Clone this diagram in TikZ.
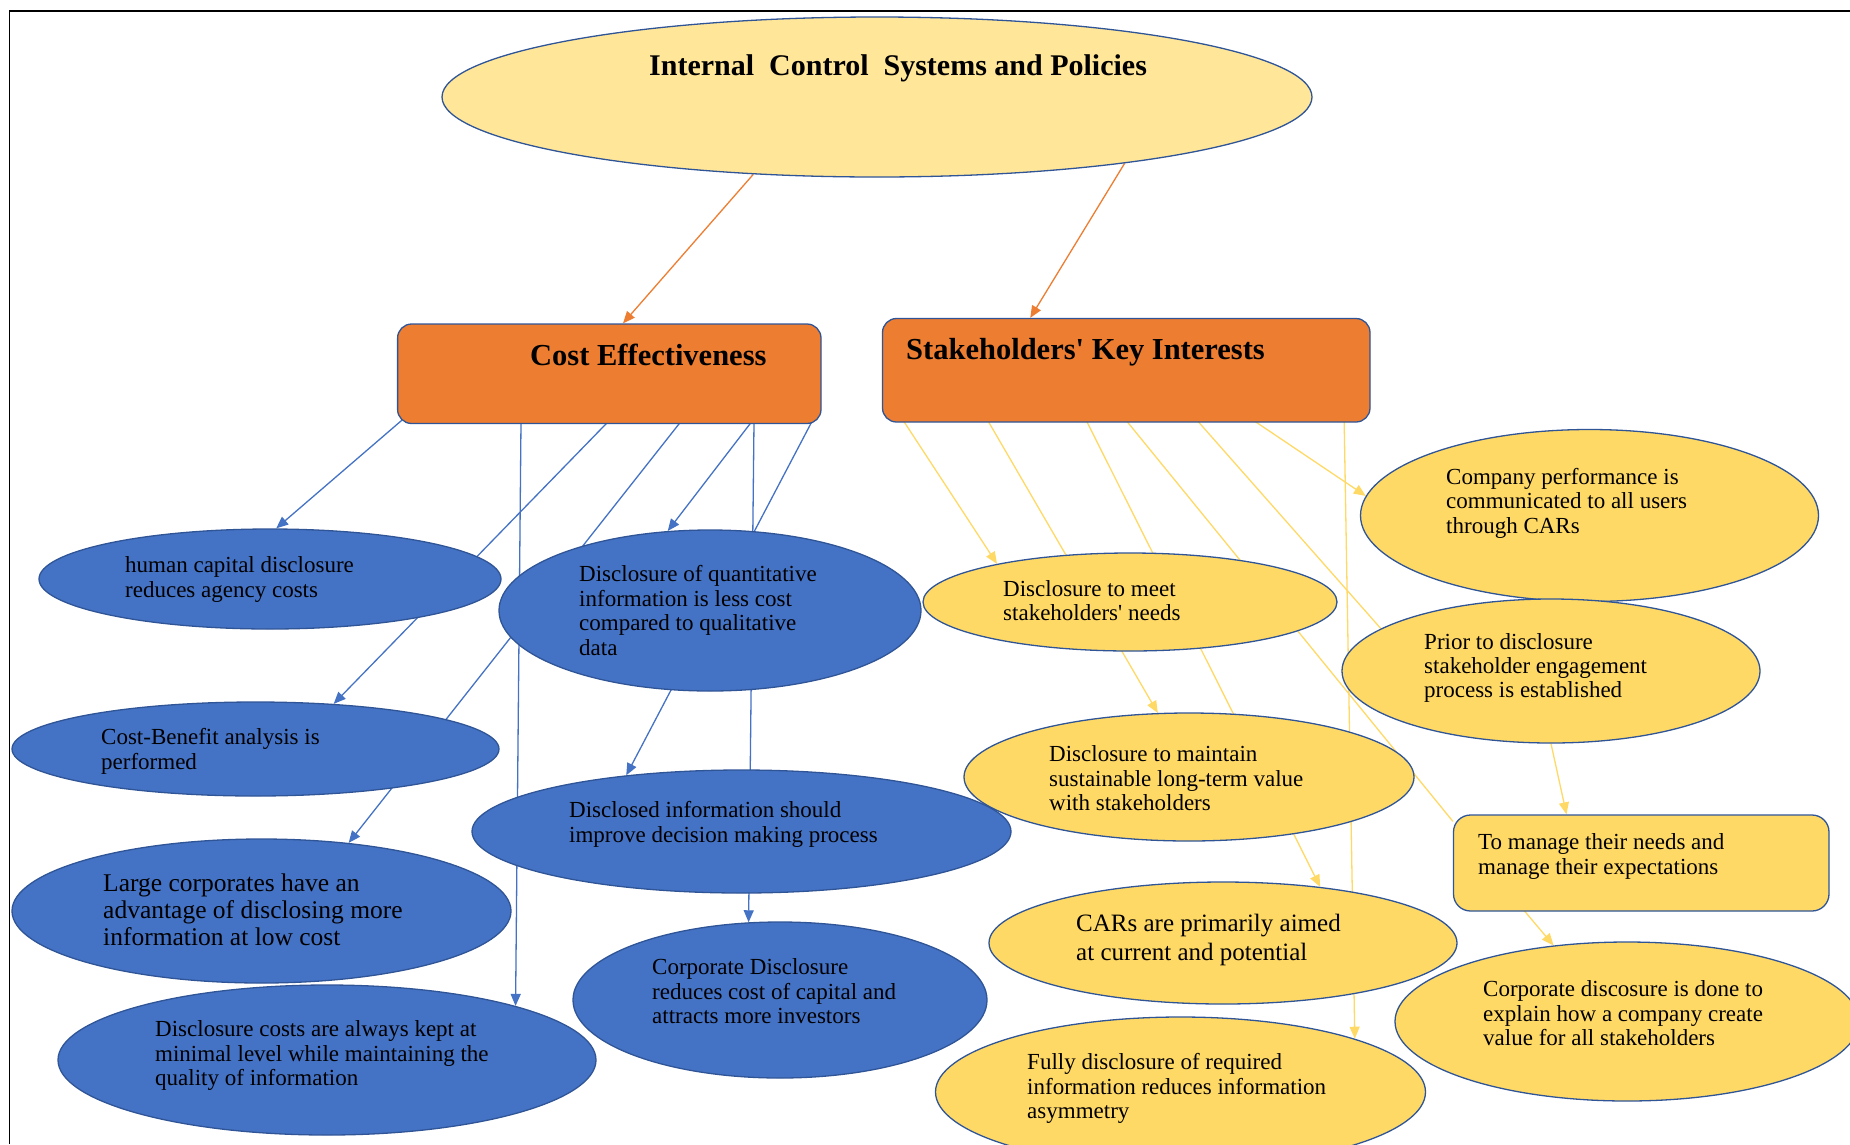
\documentclass[tikz,border=0pt]{standalone}
\usepackage{fontspec}
\setmainfont{Liberation Serif}[Ligatures=TeXOff]
\usetikzlibrary{shapes.geometric,arrows.meta,backgrounds}

\definecolor{paleyellow}{HTML}{FFE699}
\definecolor{gold}{HTML}{FFD966}
\definecolor{midblue}{HTML}{4472C4}
\definecolor{orng}{HTML}{ED7D31}
\definecolor{rim}{HTML}{2F5597}

\begin{document}
\begin{tikzpicture}[x=1pt,y=-1pt,
  oval/.style={ellipse,draw=rim,line width=1.3pt,inner sep=0pt},
  blueoval/.style={oval,fill=midblue},
  goldoval/.style={oval,fill=gold},
  card/.style={rectangle,rounded corners=14pt,draw=rim,line width=1.3pt,inner sep=0pt},
  txt/.style={anchor=north west,align=left,inner sep=0pt,font=\fontsize{23}{24.4}\selectfont},
  bigtxt/.style={txt,font=\fontsize{25.5}{27}\selectfont},
  head/.style={anchor=base west,inner sep=0pt,font=\fontsize{30.5}{34}\selectfont\bfseries},
  tip/.style={-{Triangle[length=12pt,width=10pt]}},
  bline/.style={draw=midblue,line width=1.3pt},
  gline/.style={draw=gold,line width=1.3pt},
  oline/.style={draw=orng,line width=1.3pt},
]
\useasboundingbox (0,0) rectangle (1850,1144);

% frame
\draw[line width=1.5pt] (9.5,1144) -- (9.5,11) -- (1850,11);

% top level
\node[oval,fill=paleyellow,minimum width=870pt,minimum height=160pt] (top) at (877,97) {};
\node[head,font=\fontsize{30}{34}\selectfont\bfseries] (top-t) at (649,75) {Internal\ \ Control\ \ Systems and Policies};

% second level
\node[card,fill=orng,minimum width=423.4pt,minimum height=99.5pt] (ce) at (609.3,373.75) {};
\node[head] (ce-t) at (530,365) {Cost Effectiveness};
\node[card,fill=orng,minimum width=487.5pt,minimum height=103.5pt] (sk) at (1126.25,370.25) {};
\node[head] (sk-t) at (906,359.5) {Stakeholders' Key Interests};

% cost effectiveness branch
\node[blueoval,minimum width=462pt,minimum height=100pt] (hc) at (270,579) {};
\node[txt] (hc-t) at (125,556.5) {human capital disclosure\\reduces agency costs};
\node[blueoval,minimum width=422pt,minimum height=161pt] (qi) at (710,610.5) {};
\node[txt] (qi-t) at (579,565.5) {Disclosure of quantitative\\information is less cost\\compared to qualitative\\data};
\node[blueoval,minimum width=487pt,minimum height=94pt] (cb) at (255.5,749) {};
\node[txt] (cb-t) at (101,728.5) {Cost-Benefit analysis is\\performed};
\node[blueoval,minimum width=539pt,minimum height=123pt] (di) at (741.5,831.5) {};
\node[txt] (di-t) at (569,801.5) {Disclosed information should\\improve decision making process};
\node[blueoval,minimum width=499pt,minimum height=144pt] (lc) at (261.5,911) {};
\node[bigtxt] (lc-t) at (103,873.4) {Large corporates have an\\advantage of disclosing more\\information at low cost};
\node[blueoval,minimum width=414pt,minimum height=156pt] (cdb) at (780,1000) {};
\node[txt] (cdb-t) at (652,958.5) {Corporate Disclosure\\reduces cost of capital and\\attracts more investors};
\node[blueoval,minimum width=538pt,minimum height=150pt] (dc) at (327,1060) {};
\node[txt] (dc-t) at (155,1020.5) {Disclosure costs are always kept at\\minimal level while maintaining the\\quality of information};

% stakeholders branch
\node[goldoval,minimum width=458pt,minimum height=172pt] (cp) at (1589.5,515.5) {};
\node[txt] (cp-t) at (1446,468) {Company performance is\\communicated to all users\\through CARs};
\node[goldoval,minimum width=414pt,minimum height=98pt] (meet) at (1130,602) {};
\node[txt] (meet-t) at (1003,580) {Disclosure to meet\\stakeholders' needs};
\node[goldoval,minimum width=418pt,minimum height=144pt] (prior) at (1551,671) {};
\node[txt] (prior-t) at (1424,633) {Prior to disclosure\\stakeholder engagement\\process is established};
\node[goldoval,minimum width=450pt,minimum height=128pt] (maint) at (1189,777) {};
\node[txt] (maint-t) at (1049,745.5) {Disclosure to maintain\\sustainable long-term value\\with stakeholders};
\node[card,fill=gold,rounded corners=17pt,minimum width=375.5pt,minimum height=96pt] (manage) at (1641.25,863) {};
\node[txt] (manage-t) at (1478,833.5) {To manage their needs and\\manage their expectations};
\node[goldoval,minimum width=468pt,minimum height=122pt] (cars) at (1223,943) {};
\node[txt,font=\fontsize{25}{28.5}\selectfont] (cars-t) at (1076,914) {CARs are primarily aimed\\at current and potential};
\node[goldoval,minimum width=464pt,minimum height=159pt] (cdy) at (1627,1021.5) {};
\node[txt] (cdy-t) at (1483,980.5) {Corporate discosure is done to\\explain how a company create\\value for all stakeholders};
\node[goldoval,minimum width=490pt,minimum height=150pt] (fully) at (1180.5,1092) {};
\node[txt] (fully-t) at (1027,1053.5) {Fully disclosure of required\\information reduces information\\asymmetry};

% connectors run behind the shapes
\begin{pgfonlayer}{background}
  \draw[oline,tip] (top.212.6) -- ([xshift=13.7pt]ce.north);
  \draw[oline,tip] (top.345.6) -- ([xshift=-96pt]sk.north);

  \draw[bline,tip] ([xshift=5pt,yshift=4pt]ce.south west) -- (hc.83);
  \draw[bline,tip] ([xshift=-88.3pt,yshift=2pt]ce.south) -- (dc.16);
  \draw[bline,tip] ([xshift=-1.6pt,yshift=2pt]ce.south) -- (cb.30.6);
  \draw[bline,tip] ([xshift=71.1pt,yshift=2pt]ce.south) -- (lc.38.3);
  \draw[bline,tip] ([xshift=142pt,yshift=2pt]ce.south) -- (qi.118.9);
  \draw[bline,tip] ([xshift=144.7pt,yshift=2pt]ce.south) -- (cdb.112.5);
  \draw[bline,tip] ([xshift=-9pt,yshift=4pt]ce.south east) -- (di.154.1);

  \draw[gline,tip] ([xshift=21.5pt,yshift=2pt]sk.south west) -- (meet.164.2);
  \draw[gline,tip] ([xshift=106pt,yshift=2pt]sk.south west) -- (maint.116.8);
  \draw[gline,tip] ([xshift=204.5pt,yshift=2pt]sk.south west) -- (cars.30.7);
  \draw[gline] ([xshift=244.5pt,yshift=2pt]sk.south west) -- ([yshift=-7pt]manage.north west);
  \draw[gline] ([xshift=315.5pt,yshift=2pt]sk.south west) -- (prior.166);
  \draw[gline,tip] ([xshift=372pt,yshift=2pt]sk.south west) -- (cp.175.3);
  \draw[gline,tip] ([xshift=-26.5pt,yshift=2pt]sk.south east) -- (fully.17.5);
  \draw[gline,tip] (prior.south) -- ([xshift=-74.75pt]manage.north);
  \draw[gline,tip] ([xshift=70.5pt,yshift=2pt]manage.south west) -- (cdy.134.7);
\end{pgfonlayer}
\end{tikzpicture}
\end{document}
